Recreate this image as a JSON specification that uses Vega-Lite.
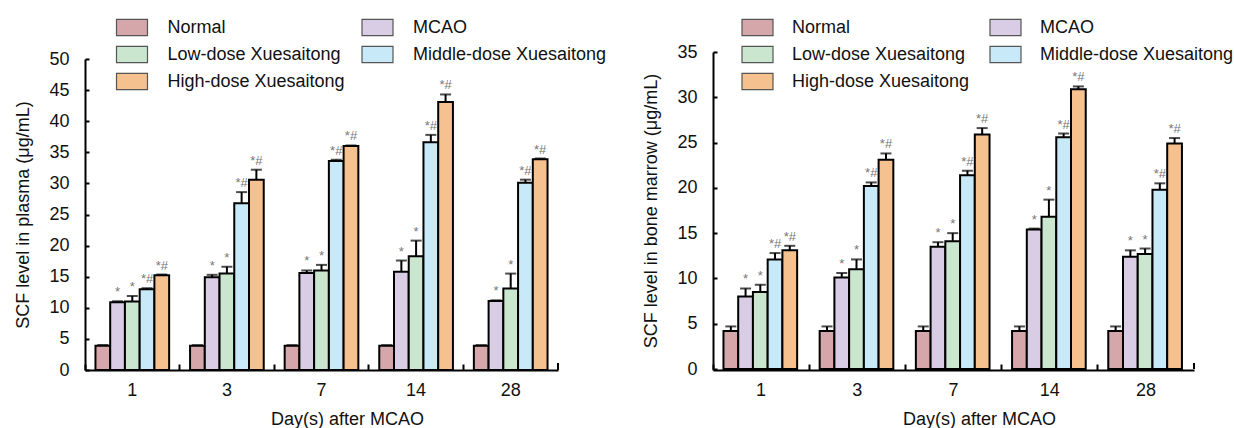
{
  "$schema": "https://vega.github.io/schema/vega-lite/v6.json",
  "padding": {"left": 14, "top": 11, "right": 0, "bottom": 0},
  "config": {
    "view": {"stroke": null},
    "font": "Liberation Sans",
    "concat": {"spacing": 35},
    "axis": {"labelFont": "Liberation Sans", "titleFont": "Liberation Sans", "labelFontSize": 18, "titleFontSize": 18, "titleFontWeight": "normal", "labelColor": "#111", "titleColor": "#111", "domainColor": "#000", "tickColor": "#000", "domainWidth": 2, "tickWidth": 2, "grid": false, "labelOverlap": false},
    "legend": {"labelFont": "Liberation Sans", "labelFontSize": 18, "labelColor": "#111", "padding": 0, "labelLimit": 400}
  },
  "datasets": {
    "plasma": [
      {"day": "1", "group": "Normal", "value": 3.9, "hi": 4.0, "sig": ""},
      {"day": "1", "group": "MCAO", "value": 10.9, "hi": 11.05, "sig": "*"},
      {"day": "1", "group": "Low-dose Xuesaitong", "value": 11.0, "hi": 11.9, "sig": "*"},
      {"day": "1", "group": "Middle-dose Xuesaitong", "value": 13.0, "hi": 13.15, "sig": "*#"},
      {"day": "1", "group": "High-dose Xuesaitong", "value": 15.25, "hi": 15.35, "sig": "*#"},
      {"day": "3", "group": "Normal", "value": 3.9, "hi": 4.0, "sig": ""},
      {"day": "3", "group": "MCAO", "value": 14.9, "hi": 15.3, "sig": "*"},
      {"day": "3", "group": "Low-dose Xuesaitong", "value": 15.5, "hi": 16.6, "sig": "*"},
      {"day": "3", "group": "Middle-dose Xuesaitong", "value": 26.8, "hi": 28.6, "sig": "*#"},
      {"day": "3", "group": "High-dose Xuesaitong", "value": 30.6, "hi": 32.2, "sig": "*#"},
      {"day": "7", "group": "Normal", "value": 3.9, "hi": 4.0, "sig": ""},
      {"day": "7", "group": "MCAO", "value": 15.6, "hi": 16.0, "sig": "*"},
      {"day": "7", "group": "Low-dose Xuesaitong", "value": 16.0, "hi": 16.9, "sig": "*"},
      {"day": "7", "group": "Middle-dose Xuesaitong", "value": 33.6, "hi": 33.8, "sig": "*#"},
      {"day": "7", "group": "High-dose Xuesaitong", "value": 36.0, "hi": 36.1, "sig": "*#"},
      {"day": "14", "group": "Normal", "value": 3.9, "hi": 4.0, "sig": ""},
      {"day": "14", "group": "MCAO", "value": 15.8, "hi": 17.6, "sig": "*"},
      {"day": "14", "group": "Low-dose Xuesaitong", "value": 18.3, "hi": 20.8, "sig": "*"},
      {"day": "14", "group": "Middle-dose Xuesaitong", "value": 36.6, "hi": 37.8, "sig": "*#"},
      {"day": "14", "group": "High-dose Xuesaitong", "value": 43.1, "hi": 44.3, "sig": "*#"},
      {"day": "28", "group": "Normal", "value": 3.9, "hi": 4.0, "sig": ""},
      {"day": "28", "group": "MCAO", "value": 11.1, "hi": 11.2, "sig": "*"},
      {"day": "28", "group": "Low-dose Xuesaitong", "value": 13.1, "hi": 15.5, "sig": "*"},
      {"day": "28", "group": "Middle-dose Xuesaitong", "value": 30.1, "hi": 30.6, "sig": "*#"},
      {"day": "28", "group": "High-dose Xuesaitong", "value": 33.9, "hi": 34.0, "sig": "*#"}
    ],
    "marrow": [
      {"day": "1", "group": "Normal", "value": 4.2, "hi": 4.7, "sig": ""},
      {"day": "1", "group": "MCAO", "value": 8.0, "hi": 8.9, "sig": "*"},
      {"day": "1", "group": "Low-dose Xuesaitong", "value": 8.5, "hi": 9.3, "sig": "*"},
      {"day": "1", "group": "Middle-dose Xuesaitong", "value": 12.1, "hi": 12.8, "sig": "*#"},
      {"day": "1", "group": "High-dose Xuesaitong", "value": 13.1, "hi": 13.6, "sig": "*#"},
      {"day": "3", "group": "Normal", "value": 4.2, "hi": 4.7, "sig": ""},
      {"day": "3", "group": "MCAO", "value": 10.1, "hi": 10.6, "sig": "*"},
      {"day": "3", "group": "Low-dose Xuesaitong", "value": 11.0, "hi": 12.1, "sig": "*"},
      {"day": "3", "group": "Middle-dose Xuesaitong", "value": 20.2, "hi": 20.6, "sig": "*#"},
      {"day": "3", "group": "High-dose Xuesaitong", "value": 23.1, "hi": 23.8, "sig": "*#"},
      {"day": "7", "group": "Normal", "value": 4.2, "hi": 4.7, "sig": ""},
      {"day": "7", "group": "MCAO", "value": 13.5, "hi": 14.0, "sig": "*"},
      {"day": "7", "group": "Low-dose Xuesaitong", "value": 14.1, "hi": 15.0, "sig": "*"},
      {"day": "7", "group": "Middle-dose Xuesaitong", "value": 21.4, "hi": 21.9, "sig": "*#"},
      {"day": "7", "group": "High-dose Xuesaitong", "value": 25.9, "hi": 26.6, "sig": "*#"},
      {"day": "14", "group": "Normal", "value": 4.2, "hi": 4.7, "sig": ""},
      {"day": "14", "group": "MCAO", "value": 15.4, "hi": 15.5, "sig": "*"},
      {"day": "14", "group": "Low-dose Xuesaitong", "value": 16.8, "hi": 18.7, "sig": "*"},
      {"day": "14", "group": "Middle-dose Xuesaitong", "value": 25.6, "hi": 26.0, "sig": "*#"},
      {"day": "14", "group": "High-dose Xuesaitong", "value": 30.9, "hi": 31.2, "sig": "*#"},
      {"day": "28", "group": "Normal", "value": 4.2, "hi": 4.7, "sig": ""},
      {"day": "28", "group": "MCAO", "value": 12.4, "hi": 13.1, "sig": "*"},
      {"day": "28", "group": "Low-dose Xuesaitong", "value": 12.7, "hi": 13.3, "sig": "*"},
      {"day": "28", "group": "Middle-dose Xuesaitong", "value": 19.8, "hi": 20.5, "sig": "*#"},
      {"day": "28", "group": "High-dose Xuesaitong", "value": 24.9, "hi": 25.5, "sig": "*#"}
    ]
  },
  "hconcat": [
    {
      "width": 473,
      "height": 318,
      "data": {"name": "plasma"},
      "encoding": {
        "x": {"field": "day", "type": "ordinal", "sort": ["1", "3", "7", "14", "28"],
              "scale": {"paddingInner": 0, "paddingOuter": 0},
              "axis": {"title": "Day(s) after MCAO", "labelAngle": 0, "bandPosition": 0, "tickSize": -6, "labelPadding": 17, "titleX": 262, "titleY": 49, "titleBaseline": "middle"}}
      },
      "layer": [
        {
          "mark": {"type": "bar", "stroke": "#000", "strokeWidth": 2},
          "encoding": {
            "xOffset": {"field": "group", "type": "nominal", "sort": ["Normal", "MCAO", "Low-dose Xuesaitong", "Middle-dose Xuesaitong", "High-dose Xuesaitong"], "scale": {"paddingInner": 0, "paddingOuter": 0.71}},
            "y": {"field": "value", "type": "quantitative", "scale": {"domain": [0, 50], "nice": false, "range": [318, 7]},
                  "axis": {"title": "SCF level in plasma (μg/mL)", "values": [0, 5, 10, 15, 20, 25, 30, 35, 40, 45, 50], "labelOverlap": false, "tickSize": -4, "labelPadding": 20, "titlePadding": 16.5}},
            "fill": {"field": "group", "type": "nominal", "sort": ["Normal", "MCAO", "Low-dose Xuesaitong", "Middle-dose Xuesaitong", "High-dose Xuesaitong"],
                     "scale": {"range": ["#d5a7aa", "#d8cde4", "#cbe6cf", "#c8e9f7", "#f5c18f"]},
                     "legend": {"title": null, "orient": "none", "legendX": 30.5, "legendY": -41, "columns": 2, "direction": "horizontal", "columnPadding": 13.5, "rowPadding": -5,
                                "symbolType": "M-1,-0.52L1,-0.52L1,0.52L-1,0.52Z", "symbolSize": 961, "symbolStrokeColor": "#555", "symbolStrokeWidth": 1.2, "symbolOpacity": 1, "labelOffset": 19}}
          }
        },
        {
          "mark": {"type": "rule", "stroke": "#000", "strokeWidth": 2},
          "encoding": {
            "xOffset": {"field": "group", "type": "nominal", "sort": ["Normal", "MCAO", "Low-dose Xuesaitong", "Middle-dose Xuesaitong", "High-dose Xuesaitong"]},
            "y": {"field": "value", "type": "quantitative", "axis": {"title": "SCF level in plasma (μg/mL)", "values": [0, 5, 10, 15, 20, 25, 30, 35, 40, 45, 50], "labelOverlap": false, "tickSize": -4, "labelPadding": 20, "titlePadding": 16.5}},
            "y2": {"field": "hi"}
          }
        },
        {
          "mark": {"type": "tick", "color": "#000", "thickness": 2, "size": 11, "orient": "horizontal"},
          "encoding": {
            "xOffset": {"field": "group", "type": "nominal", "sort": ["Normal", "MCAO", "Low-dose Xuesaitong", "Middle-dose Xuesaitong", "High-dose Xuesaitong"]},
            "y": {"field": "hi", "type": "quantitative", "axis": {"title": "SCF level in plasma (μg/mL)", "values": [0, 5, 10, 15, 20, 25, 30, 35, 40, 45, 50], "labelOverlap": false, "tickSize": -4, "labelPadding": 20, "titlePadding": 16.5}}
          }
        },
        {
          "mark": {"type": "text", "color": "#777", "fontSize": 13, "baseline": "bottom", "dy": -2},
          "encoding": {
            "xOffset": {"field": "group", "type": "nominal", "sort": ["Normal", "MCAO", "Low-dose Xuesaitong", "Middle-dose Xuesaitong", "High-dose Xuesaitong"]},
            "y": {"field": "hi", "type": "quantitative", "axis": {"title": "SCF level in plasma (μg/mL)", "values": [0, 5, 10, 15, 20, 25, 30, 35, 40, 45, 50], "labelOverlap": false, "tickSize": -4, "labelPadding": 20, "titlePadding": 16.5}},
            "text": {"field": "sig"}
          }
        },
        {
          "mark": {"type": "rule", "stroke": "#000", "strokeWidth": 2},
          "encoding": {
            "x": {"datum": "28", "type": "ordinal", "bandPosition": 1},
            "y": {"datum": 0, "type": "quantitative", "axis": {"title": "SCF level in plasma (μg/mL)", "values": [0, 5, 10, 15, 20, 25, 30, 35, 40, 45, 50], "labelOverlap": false, "tickSize": -4, "labelPadding": 20, "titlePadding": 16.5}},
            "y2": {"datum": 1}
          }
        }
      ]
    },
    {
      "width": 481,
      "height": 318,
      "data": {"name": "marrow"},
      "encoding": {
        "x": {"field": "day", "type": "ordinal", "sort": ["1", "3", "7", "14", "28"],
              "scale": {"paddingInner": 0, "paddingOuter": 0},
              "axis": {"title": "Day(s) after MCAO", "labelAngle": 0, "bandPosition": 0, "tickSize": -6, "labelPadding": 17, "titleX": 266, "titleY": 49, "titleBaseline": "middle"}}
      },
      "layer": [
        {
          "mark": {"type": "bar", "stroke": "#000", "strokeWidth": 2},
          "encoding": {
            "xOffset": {"field": "group", "type": "nominal", "sort": ["Normal", "MCAO", "Low-dose Xuesaitong", "Middle-dose Xuesaitong", "High-dose Xuesaitong"], "scale": {"paddingInner": 0, "paddingOuter": 0.7}},
            "y": {"field": "value", "type": "quantitative", "scale": {"domain": [0, 35], "nice": false, "range": [317, 0]},
                  "axis": {"title": "SCF level in bone marrow (μg/mL)", "values": [0, 5, 10, 15, 20, 25, 30, 35], "labelOverlap": false, "tickSize": -4, "labelPadding": 20, "titlePadding": 16.5}},
            "fill": {"field": "group", "type": "nominal", "sort": ["Normal", "MCAO", "Low-dose Xuesaitong", "Middle-dose Xuesaitong", "High-dose Xuesaitong"],
                     "scale": {"range": ["#d5a7aa", "#d8cde4", "#cbe6cf", "#c8e9f7", "#f5c18f"]},
                     "legend": {"title": null, "orient": "none", "legendX": 28, "legendY": -41, "columns": 2, "direction": "horizontal", "columnPadding": 17, "rowPadding": -5,
                                "symbolType": "M-1,-0.52L1,-0.52L1,0.52L-1,0.52Z", "symbolSize": 961, "symbolStrokeColor": "#555", "symbolStrokeWidth": 1.2, "symbolOpacity": 1, "labelOffset": 18}}
          }
        },
        {
          "mark": {"type": "rule", "stroke": "#000", "strokeWidth": 2},
          "encoding": {
            "xOffset": {"field": "group", "type": "nominal", "sort": ["Normal", "MCAO", "Low-dose Xuesaitong", "Middle-dose Xuesaitong", "High-dose Xuesaitong"]},
            "y": {"field": "value", "type": "quantitative", "axis": {"title": "SCF level in bone marrow (μg/mL)", "values": [0, 5, 10, 15, 20, 25, 30, 35], "labelOverlap": false, "tickSize": -4, "labelPadding": 20, "titlePadding": 16.5}},
            "y2": {"field": "hi"}
          }
        },
        {
          "mark": {"type": "tick", "color": "#000", "thickness": 2, "size": 11, "orient": "horizontal"},
          "encoding": {
            "xOffset": {"field": "group", "type": "nominal", "sort": ["Normal", "MCAO", "Low-dose Xuesaitong", "Middle-dose Xuesaitong", "High-dose Xuesaitong"]},
            "y": {"field": "hi", "type": "quantitative", "axis": {"title": "SCF level in bone marrow (μg/mL)", "values": [0, 5, 10, 15, 20, 25, 30, 35], "labelOverlap": false, "tickSize": -4, "labelPadding": 20, "titlePadding": 16.5}}
          }
        },
        {
          "mark": {"type": "text", "color": "#777", "fontSize": 13, "baseline": "bottom", "dy": -2},
          "encoding": {
            "xOffset": {"field": "group", "type": "nominal", "sort": ["Normal", "MCAO", "Low-dose Xuesaitong", "Middle-dose Xuesaitong", "High-dose Xuesaitong"]},
            "y": {"field": "hi", "type": "quantitative", "axis": {"title": "SCF level in bone marrow (μg/mL)", "values": [0, 5, 10, 15, 20, 25, 30, 35], "labelOverlap": false, "tickSize": -4, "labelPadding": 20, "titlePadding": 16.5}},
            "text": {"field": "sig"}
          }
        },
        {
          "mark": {"type": "rule", "stroke": "#000", "strokeWidth": 2},
          "encoding": {
            "x": {"datum": "28", "type": "ordinal", "bandPosition": 1},
            "y": {"datum": 0, "type": "quantitative", "axis": {"title": "SCF level in bone marrow (μg/mL)", "values": [0, 5, 10, 15, 20, 25, 30, 35], "labelOverlap": false, "tickSize": -4, "labelPadding": 20, "titlePadding": 16.5}},
            "y2": {"datum": 0.66}
          }
        }
      ]
    }
  ],
  "resolve": {"scale": {"fill": "independent"}}
}
